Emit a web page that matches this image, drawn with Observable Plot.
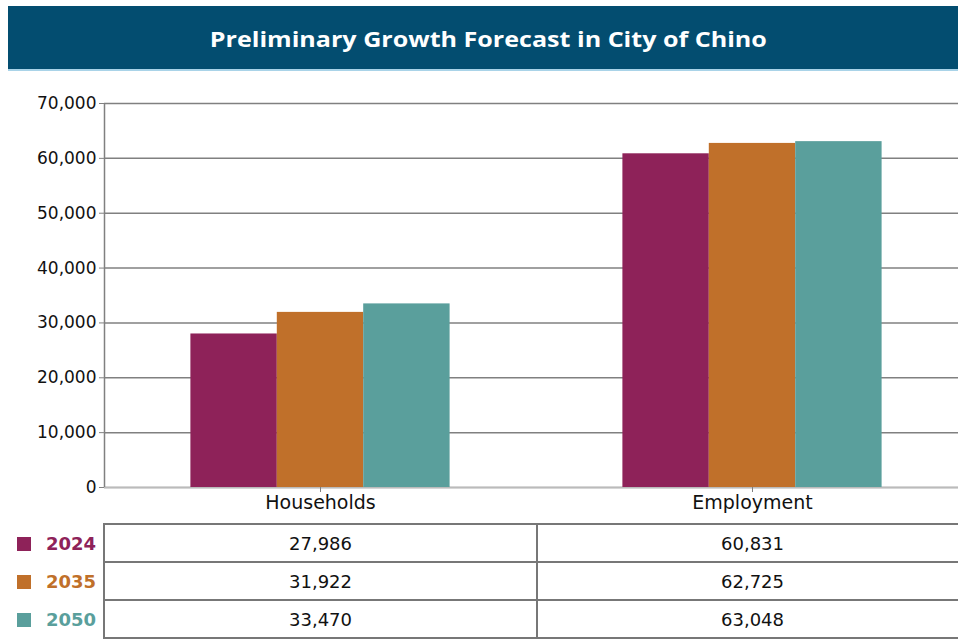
<!DOCTYPE html>
<html>
<head>
<meta charset="utf-8">
<script src="https://cdn.jsdelivr.net/npm/d3@7"></script>
<script src="https://cdn.jsdelivr.net/npm/@observablehq/plot@0.6"></script>
<style>
  html, body { margin: 0; padding: 0; background: #fff; overflow: hidden; width: 958px; height: 639px; }
  body { font-family: "DejaVu Sans", sans-serif; position: relative; }
  #title {
    position: absolute; left: 8px; top: 6px; width: 960px; height: 63px;
    background: #034d70; color: #fff;
    font-family: "Open Sans", "Noto Sans", sans-serif; font-weight: 700; font-size: 22px;
    display: flex; align-items: center; justify-content: center;
    border-bottom: 2px solid #a9d3e8;
  }
  #title span { display: inline-block; position: relative; left: 0px; transform: scaleX(1.14); }
  #chart { position: absolute; left: 0; top: 72px; }
  #chart svg { max-width: none !important; }
  #table { position: absolute; left: 0; top: 523px; }
  table { border-collapse: collapse; table-layout: fixed; width: 968px; font-size: 18px; }
  td { height: 36px; padding: 0; text-align: center; color: #111; }
  td.val { border: 2px solid #777; }
  td.leg { text-align: left; font-weight: 700; font-size: 18px; border: none; border-right: 2px solid #777; }
  .sw { display: inline-block; width: 14px; height: 14px; margin-left: 17px; margin-right: 15px; vertical-align: -1px; }
</style>
</head>
<body>
<div id="title"><span>Preliminary Growth Forecast in City of Chino</span></div>
<div id="chart"></div>
<div id="table"></div>
<script>
const categories = ["Households", "Employment"];
const years = ["2024", "2035", "2050"];
const households = [27986, 31922, 33470];
const employment = [60831, 62725, 63048];
const yTicks = [0, 10000, 20000, 30000, 40000, 50000, 60000, 70000];
const colors = ["#8e2259", "#c0702a", "#5a9f9c"];

const seriesByCategory = [households, employment];
const rows = [];
categories.forEach((c, ci) => {
  years.forEach((y, yi) => {
    rows.push({category: c, ci, year: y, yi, value: seriesByCategory[ci][yi]});
  });
});
// each category occupies one unit [ci, ci+1]; bars take the middle 3/5
const slot = 1 / 5;
rows.forEach(d => { d.x1 = d.ci + slot * (1 + d.yi); d.x2 = d.x1 + slot; });

const fmt = d3.format(",");

const chart = Plot.plot({
  width: 968,
  height: 455,
  marginLeft: 104,
  marginRight: 0,
  marginTop: 31,
  marginBottom: 40,
  style: { fontFamily: "'DejaVu Sans', sans-serif", color: "#111", background: "transparent", maxWidth: "none" },
  x: { domain: [0, categories.length], axis: null },
  y: { domain: [0, 70000], axis: null },
  color: { domain: years, range: colors },
  marks: [
    Plot.gridY(yTicks, { stroke: "#808080", strokeOpacity: 1, strokeWidth: 1.5 }),
    Plot.ruleY([0], { stroke: "#bbbbbb", strokeWidth: 1.5 }),
    Plot.rectY(rows, { x1: "x1", x2: "x2", y1: 0, y2: "value", fill: "year" }),
    Plot.ruleX([0], { y1: 0, y2: 70000, stroke: "#808080", strokeWidth: 1.5 }),
    Plot.axisY({ ticks: yTicks, tickFormat: fmt, tickSize: 5, tickPadding: 3, fontSize: 17, stroke: "#808080", label: null }),
    Plot.axisX({ ticks: categories.map((c, i) => i + 0.5), tickFormat: v => categories[v - 0.5], tickSize: 5, tickPadding: 3, fontSize: 19, stroke: "#808080", label: null })
  ]
});
document.getElementById("chart").appendChild(chart);

// data table below the chart
const table = document.createElement("table");
const colgroup = document.createElement("colgroup");
[104, 433, 431].forEach(w => { const col = document.createElement("col"); col.style.width = w + "px"; colgroup.appendChild(col); });
table.appendChild(colgroup);
years.forEach((y, yi) => {
  const tr = document.createElement("tr");
  const leg = document.createElement("td");
  leg.className = "leg";
  leg.style.color = colors[yi];
  leg.innerHTML = `<span class="sw" style="background:${colors[yi]}"></span>${y}`;
  tr.appendChild(leg);
  seriesByCategory.forEach((vals) => {
    const td = document.createElement("td");
    td.className = "val";
    td.textContent = fmt(vals[yi]);
    tr.appendChild(td);
  });
  table.appendChild(tr);
});
document.getElementById("table").appendChild(table);
</script>
</body>
</html>
